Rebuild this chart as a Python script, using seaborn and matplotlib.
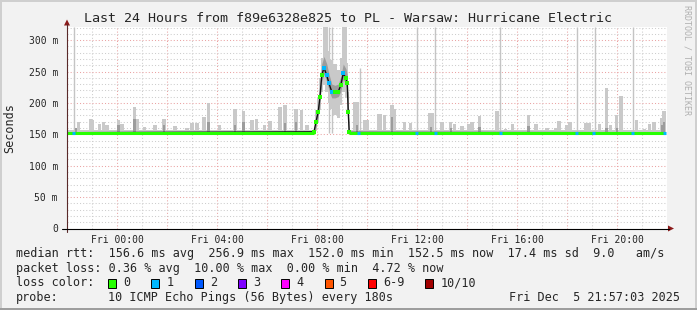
import matplotlib
matplotlib.use("Agg")
import matplotlib.pyplot as plt
import matplotlib.transforms as mtransforms
from matplotlib.patches import Polygon, Rectangle
from matplotlib.ticker import MultipleLocator
import numpy as np
import pandas as pd
import seaborn as sns

W, H = 697, 310

# ---------------- data ----------------
title = "Last 24 Hours from f89e6328e825 to PL - Warsaw: Hurricane Electric"
y_label = "Seconds"
side_text = "RRDTOOL / TOBI OETIKER"
xtick_hours = [0, 4, 8, 12, 16, 20]
xtick_labels = ["Fri 00:00", "Fri 04:00", "Fri 08:00", "Fri 12:00", "Fri 16:00", "Fri 20:00"]
ytick_values = [0, 50, 100, 150, 200, 250, 300]
ytick_labels = ["0", "50 m", "100 m", "150 m", "200 m", "250 m", "300 m"]

start_hour = -2.0
end_hour = 21.92
baseline_rtt = 152.5
smoke_floor = 150.5
smoke_band_top = 157.5

# latency spike around 08:00 (median, smoke bands, loss class)
spike_hours = [7.88, 7.96, 8.05, 8.12, 8.19, 8.28, 8.39, 8.48, 8.59, 8.72, 8.85, 8.95, 9.05, 9.16, 9.21, 9.25, 9.29]
spike_median = [154, 170, 186, 210, 244, 256, 244, 231, 218, 217, 218, 228, 247, 239, 231, 186, 153]
spike_loss = [0, 0, 0, 0, 0, 1, 1, 1, 1, 0, 0, 0, 1, 0, 0, 0, 0]
spike_light_lo = [150, 156, 168, 188, 218, 228, 218, 200, 190, 180, 176, 196, 218, 208, 184, 156, 150]
spike_light_hi = [160, 188, 210, 240, 272, 321, 321, 282, 268, 262, 252, 272, 321, 321, 264, 218, 162]
spike_dark_lo = [151, 162, 178, 200, 234, 246, 234, 220, 208, 208, 210, 218, 238, 228, 220, 176, 151]
spike_dark_hi = [157, 180, 198, 226, 262, 274, 262, 246, 230, 228, 230, 242, 262, 254, 244, 198, 157]

# smoke bumps (max ping) along the baseline
smoke_hours = [-1.55, -1.07, -1.0, -0.7, -0.55, -0.4, 0.05, 0.2, 0.7, 0.8, 1.1, 1.52, 1.88, 2.32, 2.8,
               3.0, 3.2, 3.48, 3.65, 4.1, 4.72, 5.06, 5.4, 5.59, 5.9, 6.12, 6.52, 6.72, 7.16, 7.39, 7.6,
               9.52, 9.62, 9.9, 10.0, 10.45, 10.55, 10.7, 11.0, 11.1, 11.5, 11.75, 12.5, 12.6, 13.0,
               13.35, 13.5, 13.8, 14.05, 14.2, 14.5, 15.2, 15.55, 15.82, 16.45, 16.76, 17.2, 17.55,
               17.68, 18.0, 18.12, 18.75, 18.88, 19.3, 19.57, 19.75, 19.99, 20.16, 20.79, 21.1, 21.3,
               21.48, 21.8, 21.88]
smoke_tops = [170, 174, 172, 166, 169, 165, 172, 166, 194, 175, 162, 165, 174, 164, 160,
              168, 168, 178, 200, 165, 190, 187, 172, 174, 165, 171, 194, 196, 191, 189, 165,
              201, 201, 173, 173, 183, 183, 180, 197, 190, 170, 168, 184, 184, 170,
              170, 166, 163, 166, 170, 179, 187, 158, 166, 180, 167, 160, 160,
              171, 165, 170, 168, 168, 166, 224, 165, 180, 211, 173, 158, 166,
              170, 176, 187]
dark_hours = [-1.65, 0.05, 0.7, 1.88, 3.65, 4.72, 5.06, 6.72, 7.16, 9.6, 11.0, 12.55, 13.35,
              14.5, 16.45, 19.57, 20.0, 21.8, 21.88]
dark_tops = [160, 165, 175, 165, 170, 165, 170, 168, 170, 165, 178, 162, 160,
             162, 163, 160, 160, 165, 170]
# single far-off pings drawn as thin lines
outlier_hours = [-1.71, 8.48, 8.58, 9.7, 12.0, 12.72, 15.32, 18.4, 19.1, 20.65]
outlier_tops = [321, 321, 321, 255, 321, 321, 321, 321, 321, 321]
# baseline samples with 1 lost ping
loss_hours = [-1.75, 9.65, 11.98, 12.72, 15.32, 18.37, 19.05, 20.6, 21.9]

stats_line = "median rtt:  156.6 ms avg  256.9 ms max  152.0 ms min  152.5 ms now  17.4 ms sd  9.0   am/s"
loss_line = "packet loss: 0.36 % avg  10.00 % max  0.00 % min  4.72 % now"
loss_color_title = "loss color:"
loss_color_labels = ["0", "1", "2", "3", "4", "5", "6-9", "10/10"]
loss_color_values = ["#26ff00", "#00b8ff", "#0059ff", "#7e00ff", "#ff00ff", "#ff5500", "#ff0000", "#a10000"]
probe_title = "probe:"
probe_text = "10 ICMP Echo Pings (56 Bytes) every 180s"
date_text = "Fri Dec  5 21:57:03 2025"

# ---------------- styling ----------------
sns.set_style("white")
plt.rcParams['font.family'] = ['DejaVu Sans Mono', 'DejaVu Sans']

BG = "#f2f2f2"
LIGHT = "#c9c9c9"
MID = "#9c9c9c"
MGRID = "#eaa3a3"
GRID = "#cdcdcd"

fig = plt.figure(figsize=(W / 100, H / 100), dpi=100, facecolor=BG)
ID = mtransforms.IdentityTransform()


def fx(x):
    return x / W


def fy(y):
    return 1 - y / H


# plot area: x 67..667, y 27..228.5
ax = fig.add_axes([fx(67), fy(228.5), (667 - 67) / W, (228.5 - 27) / H])
ax.set_facecolor("white")
ax.set_xlim(start_hour, 22.0)
ax.set_ylim(0, 320.9)
for s in ax.spines.values():
    s.set_visible(False)

# grid
ax.xaxis.set_major_locator(MultipleLocator(2))
ax.xaxis.set_minor_locator(MultipleLocator(1))
ax.yaxis.set_major_locator(MultipleLocator(50))
ax.yaxis.set_minor_locator(MultipleLocator(10))
ax.grid(which="minor", color=GRID, linestyle=(0, (1, 2)), linewidth=0.75)
ax.grid(which="major", color=MGRID, linestyle=(0, (1, 2)), linewidth=0.75)
ax.set_axisbelow(True)
ax.tick_params(which="major", length=3, width=0.75, color="#d06060", labelsize=7)
ax.tick_params(which="minor", length=2, width=0.75, color="#a0a0a0")
ax.set_xticks([h for h in range(0, 22, 2)])
ax.set_xticklabels([xtick_labels[xtick_hours.index(h)] if h in xtick_hours else "" for h in range(0, 22, 2)])
ax.set_yticks(ytick_values)
ax.set_yticklabels(ytick_labels)
ax.tick_params(axis="y", pad=3.5)
ax.tick_params(axis="x", pad=1.5)

# baseline smoke band
for a, b in [(start_hour, spike_hours[0]), (spike_hours[-1], end_hour)]:
    ax.fill_between([a, b], [smoke_floor, smoke_floor], [smoke_band_top, smoke_band_top],
                    color=LIGHT, linewidth=0, zorder=2)
ax.bar(smoke_hours, [t - smoke_floor for t in smoke_tops], bottom=smoke_floor, width=0.13,
       color=LIGHT, linewidth=0, zorder=2)
ax.bar(dark_hours, [t - smoke_floor for t in dark_tops], bottom=smoke_floor, width=0.1,
       color=MID, linewidth=0, zorder=2.5)
ax.vlines(outlier_hours, baseline_rtt, outlier_tops, color="#c4c4c4", linewidth=1.0, zorder=2)

# spike smoke
ax.fill_between(spike_hours, spike_light_lo, spike_light_hi, step="mid", color=LIGHT, linewidth=0, zorder=2)
ax.fill_between(spike_hours, spike_dark_lo, spike_dark_hi, color=MID, linewidth=0, zorder=2.6)

# median line
df = pd.DataFrame({"hour": [start_hour] + spike_hours + [end_hour],
                   "rtt": [baseline_rtt] + spike_median + [baseline_rtt]})
sns.lineplot(data=df, x="hour", y="rtt", ax=ax, color="#111111", linewidth=1.0,
             estimator=None, sort=False, zorder=4)
for a, b in [(start_hour, spike_hours[0]), (spike_hours[-1], end_hour)]:
    ax.plot([a, b], [baseline_rtt, baseline_rtt], color=loss_color_values[0], linewidth=2.2,
            solid_capstyle="butt", zorder=5)
ax.hlines([baseline_rtt] * len(loss_hours), [h - 0.06 for h in loss_hours], [h + 0.06 for h in loss_hours],
          color=loss_color_values[1], linewidth=2.2, zorder=6)
for h, v, l in zip(spike_hours, spike_median, spike_loss):
    ax.plot([h], [v], marker="s", markersize=2.2, color=loss_color_values[l], markeredgewidth=0, zorder=6)

ax.set_xlabel("")
ax.set_ylabel("")

# axis lines and arrows (pixel coords)
fig.add_artist(plt.Line2D([67, 67], [H - 232, H - 24], transform=ID, color="#5a2a2a", linewidth=0.8))
fig.add_artist(plt.Line2D([62, 669], [H - 228.5, H - 228.5], transform=ID, color="black", linewidth=0.8))
fig.add_artist(Polygon([[67, H - 19.5], [64, H - 25.5], [70, H - 25.5]], closed=True, transform=ID,
                       facecolor="#8b1a1a", edgecolor="none"))
fig.add_artist(Polygon([[674, H - 228.5], [668, H - 225.5], [668, H - 231.5]], closed=True, transform=ID,
                       facecolor="#8b1a1a", edgecolor="none"))

# borders
fig.add_artist(Rectangle((0, H - 2), W, 2, transform=ID, facecolor="#cfcfcf", edgecolor="none"))
fig.add_artist(Rectangle((0, 0), 2, H, transform=ID, facecolor="#cfcfcf", edgecolor="none"))
fig.add_artist(Rectangle((W - 2, 0), 2, H, transform=ID, facecolor="#cfcfcf", edgecolor="none"))
fig.add_artist(Rectangle((0, 0), W, 2, transform=ID, facecolor="#9e9e9e", edgecolor="none"))

# texts
fig.text(fx(348.5), fy(18), title, ha="center", va="center", fontsize=9.6)
fig.text(fx(10), fy(128), y_label, ha="center", va="center", rotation=90, fontsize=8.5)
fig.text(fx(687), fy(5), side_text, ha="center", va="top", rotation=270, fontsize=6, color="#b0b0b0")

LF = 8.45
fig.text(fx(15.5), fy(254), stats_line, ha="left", va="center", fontsize=LF)
fig.text(fx(15.5), fy(268.5), loss_line, ha="left", va="center", fontsize=LF)
fig.text(fx(15.5), fy(283), loss_color_title, ha="left", va="center", fontsize=LF)
bx = 108
for lab, col in zip(loss_color_labels, loss_color_values):
    fig.add_artist(Rectangle((bx, H - 287.5), 8, 9, transform=ID, facecolor=col,
                             edgecolor="black", linewidth=0.7))
    fig.text(fx(bx + 15), fy(283), lab, ha="left", va="center", fontsize=LF)
    bx += 15 + 7.08 * (len(lab) + 3)
fig.text(fx(15.5), fy(297.5), probe_title, ha="left", va="center", fontsize=LF)
fig.text(fx(107.5), fy(297.5), probe_text, ha="left", va="center", fontsize=LF)
fig.text(fx(680), fy(297.5), date_text, ha="right", va="center", fontsize=LF)

fig.savefig("out.png", dpi=100, facecolor=BG)
